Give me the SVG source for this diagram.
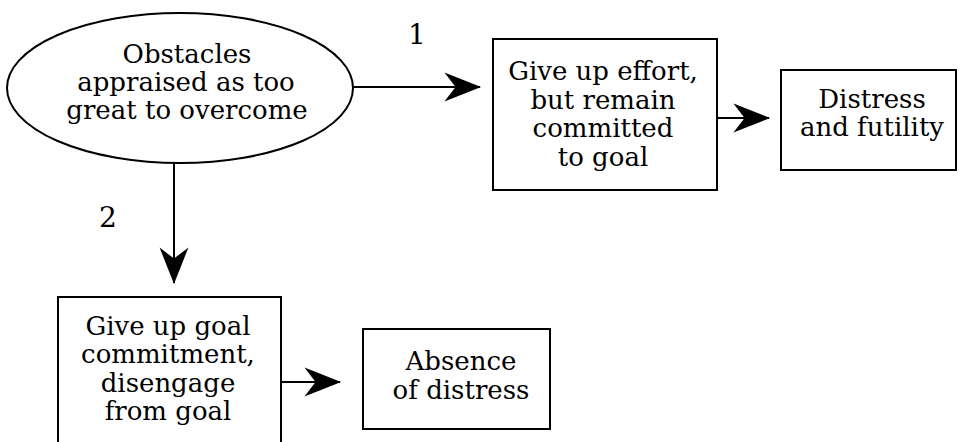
<svg xmlns="http://www.w3.org/2000/svg" width="959" height="442" viewBox="0 0 959 442">
<style>
.node{fill:#fff;stroke:#000;stroke-width:2}
.t{font-family:"DejaVu Serif","Liberation Serif",serif;font-size:26px;fill:#000;text-anchor:middle}
.num{font-family:"DejaVu Serif","Liberation Serif",serif;font-size:28px;fill:#000;text-anchor:middle}
.c{fill:none;stroke:#000;stroke-width:2;marker-end:url(#ah)}
</style>
<defs>
<marker id="ah" markerUnits="userSpaceOnUse" markerWidth="40" markerHeight="40" refX="0" refY="0" viewBox="-34 -15 36 30" orient="auto" overflow="visible">
<path d="M1,0 L-32,-13 L-22,0 L-32,13 Z" fill="#000"/>
</marker>
</defs>
<g id="connectors">
<line class="c" x1="353" y1="87" x2="480" y2="87"/>
<line class="c" x1="717" y1="118" x2="769" y2="118"/>
<line class="c" x1="174" y1="163" x2="174" y2="283"/>
<line class="c" x1="281" y1="382" x2="340" y2="382"/>
<text class="num" x="417" y="44">1</text>
<text class="num" x="108" y="227">2</text>
</g>
<g id="obstacles">
<ellipse class="node" cx="180" cy="88" rx="173" ry="75"/>
<text class="t" x="187" y="63">Obstacles</text>
<text class="t" x="186" y="91">appraised as too</text>
<text class="t" x="187" y="119">great to overcome</text>
</g>
<g id="giveup-effort">
<rect class="node" x="493" y="39" width="224" height="151"/>
<text class="t" x="603" y="80">Give up effort,</text>
<text class="t" x="603" y="109">but remain</text>
<text class="t" x="603" y="137">committed</text>
<text class="t" x="603" y="166">to goal</text>
</g>
<g id="distress">
<rect class="node" x="781" y="70" width="175" height="100"/>
<text class="t" x="872" y="108">Distress</text>
<text class="t" x="872" y="136">and futility</text>
</g>
<g id="giveup-goal">
<rect class="node" x="58" y="297" width="223" height="150"/>
<text class="t" x="168" y="335">Give up goal</text>
<text class="t" x="168" y="363">commitment,</text>
<text class="t" x="168" y="392">disengage</text>
<text class="t" x="168" y="420">from goal</text>
</g>
<g id="absence">
<rect class="node" x="363" y="329" width="187" height="100"/>
<text class="t" x="461" y="370">Absence</text>
<text class="t" x="461" y="399">of distress</text>
</g>
</svg>
